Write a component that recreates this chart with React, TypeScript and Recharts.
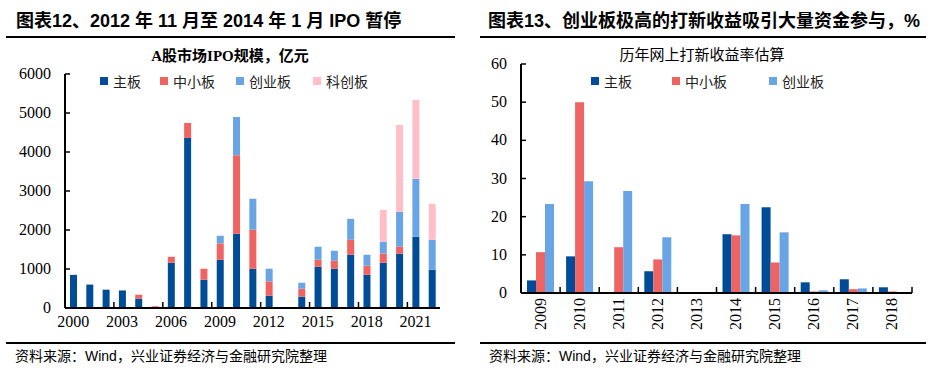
import React from "react";
import { BarChart, Bar, XAxis, YAxis } from "recharts";

// 左图：A股市场IPO规模（亿元）
const years = [
  "2000", "2001", "2002", "2003", "2004", "2005", "2006", "2007", "2008", "2009", "2010", "2011",
  "2012", "2013", "2014", "2015", "2016", "2017", "2018", "2019", "2020", "2021", "2022",
];
const mainBoard = [850, 600, 470, 450, 240, 0, 1160, 4360, 725, 1237, 1903, 1007, 316, 0, 290, 1058, 1007, 1365, 853, 1160, 1391, 1826, 981];
const smeBoard = [0, 0, 0, 0, 100, 45, 154, 384, 282, 418, 2013, 998, 367, 0, 205, 179, 205, 384, 231, 239, 179, 0, 0];
const gemBoard = [0, 0, 0, 0, 0, 0, 0, 0, 0, 197, 982, 794, 324, 0, 153, 333, 256, 538, 281, 299, 896, 1485, 768];
const starBoard = [0, 0, 0, 0, 0, 0, 0, 0, 0, 0, 0, 0, 0, 0, 0, 0, 0, 0, 0, 819, 2227, 2022, 922];
const leftTicks = [0, 1000, 2000, 3000, 4000, 5000, 6000];

// 右图：历年网上打新收益率估算（%）
const returnYears = ["2009", "2010", "2011", "2012", "2013", "2014", "2015", "2016", "2017", "2018"];
const mainReturn = [3.3, 9.6, 0, 5.7, 0, 15.4, 22.5, 2.8, 3.6, 1.5];
const smeReturn = [10.7, 50.0, 12.0, 8.8, 0, 15.1, 8.0, 0.4, 1.0, 0.4];
const gemReturn = [23.3, 29.3, 26.7, 14.6, 0, 23.3, 15.9, 0.7, 1.2, 0];
const rightTicks = [0, 10, 20, 30, 40, 50, 60];

const C_MAIN = "#004C97";
const C_SME = "#F06363";
const C_GEM = "#69A4E4";
const C_STAR = "#FFBFC9";

const NUM_FONT = "'Liberation Serif', 'DejaVu Serif', serif";
const CJK_FONT = "'Noto Sans CJK SC', sans-serif";
const Y_MARGIN = 14;

const leftData = years.map((y, i) => ({
  year: y,
  main: mainBoard[i],
  sme: smeBoard[i],
  gem: gemBoard[i],
  star: starBoard[i],
}));

const rightData = returnYears.map((y, i) => ({
  year: y,
  main: mainReturn[i],
  sme: smeReturn[i],
  gem: gemReturn[i],
}));

// y轴刻度线朝内
const YTick = (props: any) => {
  const { x, y, payload } = props;
  return (
    <g>
      <line x1={x + Y_MARGIN} x2={x + Y_MARGIN + 5} y1={y} y2={y} stroke="#000" strokeWidth={1.5} />
      <text x={x} y={y} dy={5} textAnchor="end" fontSize={16} fontFamily={NUM_FONT} fill="#000">
        {payload.value}
      </text>
    </g>
  );
};

const makeLeftXTick = (half: number) => (props: any) => {
  const { x, y, payload } = props;
  return (
    <g>
      <line x1={x - half} x2={x - half} y1={y - 4} y2={y - 10} stroke="#000" strokeWidth={1.5} />
      <text x={x} y={y} dy={15} textAnchor="middle" fontSize={16} fontFamily={NUM_FONT} fill="#000">
        {payload.value}
      </text>
    </g>
  );
};

const makeRightXTick = (half: number, last: number) => (props: any) => {
  const { x, y, payload, index } = props;
  return (
    <g>
      <line x1={x - half} x2={x - half} y1={y - 4} y2={y - 10} stroke="#000" strokeWidth={1.5} />
      {index === last && (
        <line x1={x + half} x2={x + half} y1={y - 4} y2={y - 10} stroke="#000" strokeWidth={1.5} />
      )}
      <text
        x={x + 5}
        y={y + 1}
        textAnchor="end"
        transform={`rotate(-90, ${x + 5}, ${y + 1})`}
        fontSize={16}
        fontFamily={NUM_FONT}
        fill="#000"
      >
        {payload.value}
      </text>
    </g>
  );
};

const LegendItem = ({ color, label, left, top }: { color: string; label: string; left: number; top: number }) => (
  <div style={{ position: "absolute", left, top, display: "flex", alignItems: "center", fontFamily: CJK_FONT, fontSize: 14, color: "#222" }}>
    <span style={{ width: 8, height: 8, background: color, display: "inline-block", marginRight: 5 }} />
    {label}
  </div>
);

const textBase: React.CSSProperties = { position: "absolute", whiteSpace: "nowrap", color: "#000" };

export default function App() {
  const leftHalf = 375 / years.length / 2;
  const rightHalf = 391 / returnYears.length / 2;
  return (
    <div style={{ position: "absolute", left: 0, top: 0, width: 934, height: 368, background: "#fff", overflow: "hidden" }}>
      {/* 标题 */}
      <div style={{ ...textBase, left: 16, top: 6, fontSize: 18, fontWeight: 700, fontFamily: "'Liberation Sans', " + CJK_FONT }}>
        图表12、2012 年 11 月至 2014 年 1 月 IPO 暂停
      </div>
      <div style={{ ...textBase, left: 488, top: 6, fontSize: 18, fontWeight: 700, fontFamily: "'Liberation Sans', " + CJK_FONT }}>
        图表13、创业板极高的打新收益吸引大量资金参与，%
      </div>
      <div style={{ position: "absolute", left: 6, top: 36, width: 449, height: 1.5, background: "#000" }} />
      <div style={{ position: "absolute", left: 480, top: 36, width: 446, height: 1.5, background: "#000" }} />
      <div style={{ position: "absolute", left: 6, top: 342, width: 449, height: 1.5, background: "#000" }} />
      <div style={{ position: "absolute", left: 480, top: 342, width: 446, height: 1.5, background: "#000" }} />
      <div style={{ ...textBase, left: 15, top: 345, fontSize: 14, fontFamily: "'Liberation Sans', " + CJK_FONT }}>
        资料来源：Wind，兴业证券经济与金融研究院整理
      </div>
      <div style={{ ...textBase, left: 489, top: 345, fontSize: 14, fontFamily: "'Liberation Sans', " + CJK_FONT }}>
        资料来源：Wind，兴业证券经济与金融研究院整理
      </div>

      {/* 子标题 */}
      <div style={{ ...textBase, left: 0, width: 460, textAlign: "center", top: 44, fontSize: 15, fontWeight: 700, fontFamily: "'Liberation Serif', " + CJK_FONT }}>
        A股市场IPO规模，亿元
      </div>
      <div style={{ ...textBase, left: 470, width: 464, textAlign: "center", top: 43, fontSize: 15, fontFamily: CJK_FONT }}>
        历年网上打新收益率估算
      </div>

      {/* 图例 */}
      <LegendItem color={C_MAIN} label="主板" left={100} top={71} />
      <LegendItem color={C_SME} label="中小板" left={160} top={71} />
      <LegendItem color={C_GEM} label="创业板" left={236} top={71} />
      <LegendItem color={C_STAR} label="科创板" left={313} top={71} />
      <LegendItem color={C_MAIN} label="主板" left={591} top={71} />
      <LegendItem color={C_SME} label="中小板" left={672} top={71} />
      <LegendItem color={C_GEM} label="创业板" left={769} top={71} />

      <div style={{ position: "absolute", left: 0, top: 60 }}>
        <BarChart width={460} height={290} data={leftData} margin={{ top: 14, right: 20, bottom: 12, left: 0 }} barSize={7}>
          <XAxis
            dataKey="year"
            height={30}
            interval={2}
            tickLine={false}
            tickSize={0}
            tickMargin={4}
            axisLine={{ stroke: "#000", strokeWidth: 2 }}
            tick={makeLeftXTick(leftHalf)}
          />
          <YAxis
            width={65}
            domain={[0, 6000]}
            ticks={leftTicks}
            tickLine={false}
            tickSize={0}
            tickMargin={Y_MARGIN}
            axisLine={{ stroke: "#000", strokeWidth: 2 }}
            tick={<YTick />}
          />
          <Bar dataKey="main" stackId="a" fill={C_MAIN} isAnimationActive={false} />
          <Bar dataKey="sme" stackId="a" fill={C_SME} isAnimationActive={false} />
          <Bar dataKey="gem" stackId="a" fill={C_GEM} isAnimationActive={false} />
          <Bar dataKey="star" stackId="a" fill={C_STAR} isAnimationActive={false} />
        </BarChart>
      </div>

      <div style={{ position: "absolute", left: 470, top: 50 }}>
        <BarChart width={464} height={285} data={rightData} margin={{ top: 14, right: 22, bottom: 0, left: 0 }} barSize={9} barGap={0}>
          <XAxis
            dataKey="year"
            height={42}
            interval={0}
            tickLine={false}
            tickSize={0}
            tickMargin={4}
            axisLine={{ stroke: "#000", strokeWidth: 2 }}
            tick={makeRightXTick(rightHalf, returnYears.length - 1)}
          />
          <YAxis
            width={51}
            domain={[0, 60]}
            ticks={rightTicks}
            tickLine={false}
            tickSize={0}
            tickMargin={Y_MARGIN}
            axisLine={{ stroke: "#000", strokeWidth: 2 }}
            tick={<YTick />}
          />
          <Bar dataKey="main" fill={C_MAIN} isAnimationActive={false} />
          <Bar dataKey="sme" fill={C_SME} isAnimationActive={false} />
          <Bar dataKey="gem" fill={C_GEM} isAnimationActive={false} />
        </BarChart>
      </div>
    </div>
  );
}
